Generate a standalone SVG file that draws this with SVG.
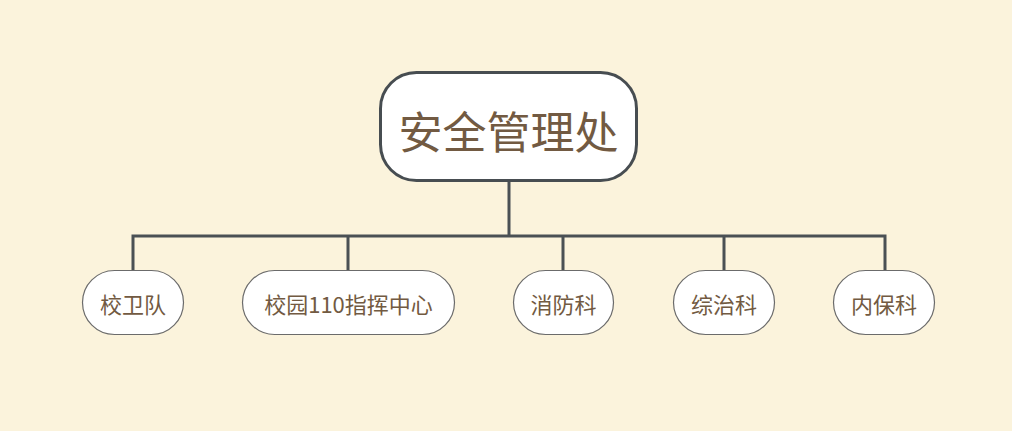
<svg xmlns="http://www.w3.org/2000/svg" width="1012" height="431" viewBox="0 0 1012 431">
<style>
.bg{fill:#fbf3dc}
.root{fill:#ffffff;stroke:#474d51;stroke-width:3}
.child{fill:#ffffff;stroke:#6b6b6b;stroke-width:1.2}
.t{font-family:"Noto Sans CJK SC","Noto Sans",sans-serif;fill:#725a42;text-anchor:middle;dominant-baseline:central}
.conn{fill:none;stroke:#4a5054;stroke-width:3}
</style>
<rect class="bg" x="0" y="0" width="1012" height="431"/>
<g id="connectors">
<path class="conn" d="M509 181 V236 M133 270 V236 H885 V270 M348 236 V270 M563 236 V270 M724 236 V270"/>
</g>
<g id="root">
<rect class="root" x="380.5" y="72.5" width="256" height="108" rx="36" ry="36"/>
<text class="t" x="508.5" y="130" font-size="44">安全管理处</text>
</g>
<g id="n1">
<rect class="child" x="82.5" y="270.5" width="101" height="64" rx="32" ry="32"/>
<text class="t" x="133" y="303" font-size="22">校卫队</text>
</g>
<g id="n2">
<rect class="child" x="242.5" y="270.5" width="212" height="64" rx="32" ry="32"/>
<text class="t" x="348.5" y="303" font-size="22">校园110指挥中心</text>
</g>
<g id="n3">
<rect class="child" x="513.5" y="270.5" width="100" height="64" rx="32" ry="32"/>
<text class="t" x="563.5" y="303" font-size="22">消防科</text>
</g>
<g id="n4">
<rect class="child" x="673.5" y="270.5" width="101" height="64" rx="32" ry="32"/>
<text class="t" x="724" y="303" font-size="22">综治科</text>
</g>
<g id="n5">
<rect class="child" x="833.5" y="270.5" width="101" height="64" rx="32" ry="32"/>
<text class="t" x="884" y="303" font-size="22">内保科</text>
</g>
</svg>
